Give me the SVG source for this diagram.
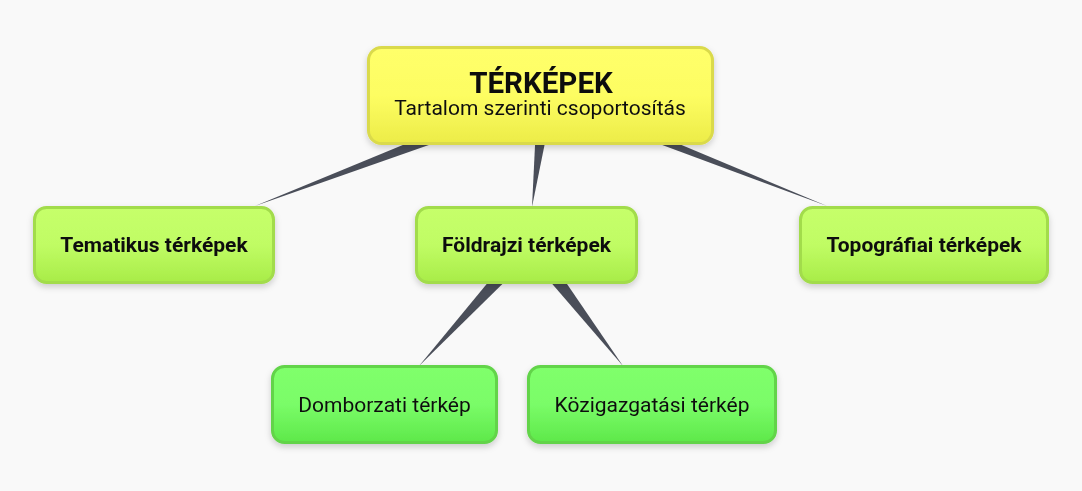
<svg xmlns="http://www.w3.org/2000/svg" width="1082" height="491" viewBox="0 0 1082 491">
<defs>
<linearGradient id="gY" x1="0" y1="0" x2="0" y2="1"><stop offset="0" stop-color="#ffff6a"/><stop offset="0.5" stop-color="#fdfd62"/><stop offset="1" stop-color="#ecec48"/></linearGradient>
<linearGradient id="gL" x1="0" y1="0" x2="0" y2="1"><stop offset="0" stop-color="#c6ff6a"/><stop offset="0.5" stop-color="#c0fc64"/><stop offset="1" stop-color="#a8ec48"/></linearGradient>
<linearGradient id="gG" x1="0" y1="0" x2="0" y2="1"><stop offset="0" stop-color="#80ff6c"/><stop offset="0.5" stop-color="#7afc68"/><stop offset="1" stop-color="#5ee84a"/></linearGradient>
<filter id="sh" x="-10%" y="-20%" width="120%" height="150%"><feDropShadow dx="0" dy="3" stdDeviation="3" flood-color="#000" flood-opacity="0.18"/></filter>
</defs>
<style>
.top{fill:url(#gY);stroke:#dada4c;stroke-width:3}
.l1{fill:url(#gL);stroke:#a2dc4c;stroke-width:3}
.l2{fill:url(#gG);stroke:#62d44a;stroke-width:3}
.t{font-family:Roboto,"Liberation Sans",sans-serif;fill:#111;text-anchor:middle}
.b{font-weight:bold;font-size:21px}
.r{font-size:21px}
.con{fill:#4a4e59}
</style>
<rect width="1082" height="491" fill="#f9f9f9"/>
<g id="connectors">
<polygon class="con" points="255,206 549,102.9 543,87.1"/>
<polygon class="con" points="532,207 554.5,95.6 537.5,94.4"/>
<polygon class="con" points="827,206 543,87.1 549,102.9"/>
<polygon class="con" points="419,366 536.5,250.5 523.5,239.5"/>
<polygon class="con" points="623,366 523,250 537,240"/>
</g>
<g id="n-root" filter="url(#sh)">
<rect class="top" x="368.5" y="47.5" width="344" height="96" rx="13"/>
<text class="t" x="541" y="93" font-size="29.5" font-weight="bold">TÉRKÉPEK</text>
<text class="t" x="540" y="115" font-size="21" fill="#222">Tartalom szerinti csoportosítás</text>
</g>
<g id="n-tematikus" filter="url(#sh)">
<rect class="l1" x="34.5" y="207.5" width="239" height="75" rx="12"/>
<text class="t b" x="154" y="252">Tematikus térképek</text>
</g>
<g id="n-foldrajzi" filter="url(#sh)">
<rect class="l1" x="416.5" y="207.5" width="220" height="75" rx="12"/>
<text class="t b" x="526.5" y="252">Földrajzi térképek</text>
</g>
<g id="n-topografiai" filter="url(#sh)">
<rect class="l1" x="800.5" y="207.5" width="247" height="75" rx="12"/>
<text class="t b" x="924" y="252">Topográfiai térképek</text>
</g>
<g id="n-domborzati" filter="url(#sh)">
<rect class="l2" x="272.5" y="366.5" width="224" height="76" rx="12"/>
<text class="t r" x="384.5" y="412">Domborzati térkép</text>
</g>
<g id="n-kozigazgatasi" filter="url(#sh)">
<rect class="l2" x="528.5" y="366.5" width="247" height="76" rx="12"/>
<text class="t r" x="652" y="412">Közigazgatási térkép</text>
</g>
</svg>
